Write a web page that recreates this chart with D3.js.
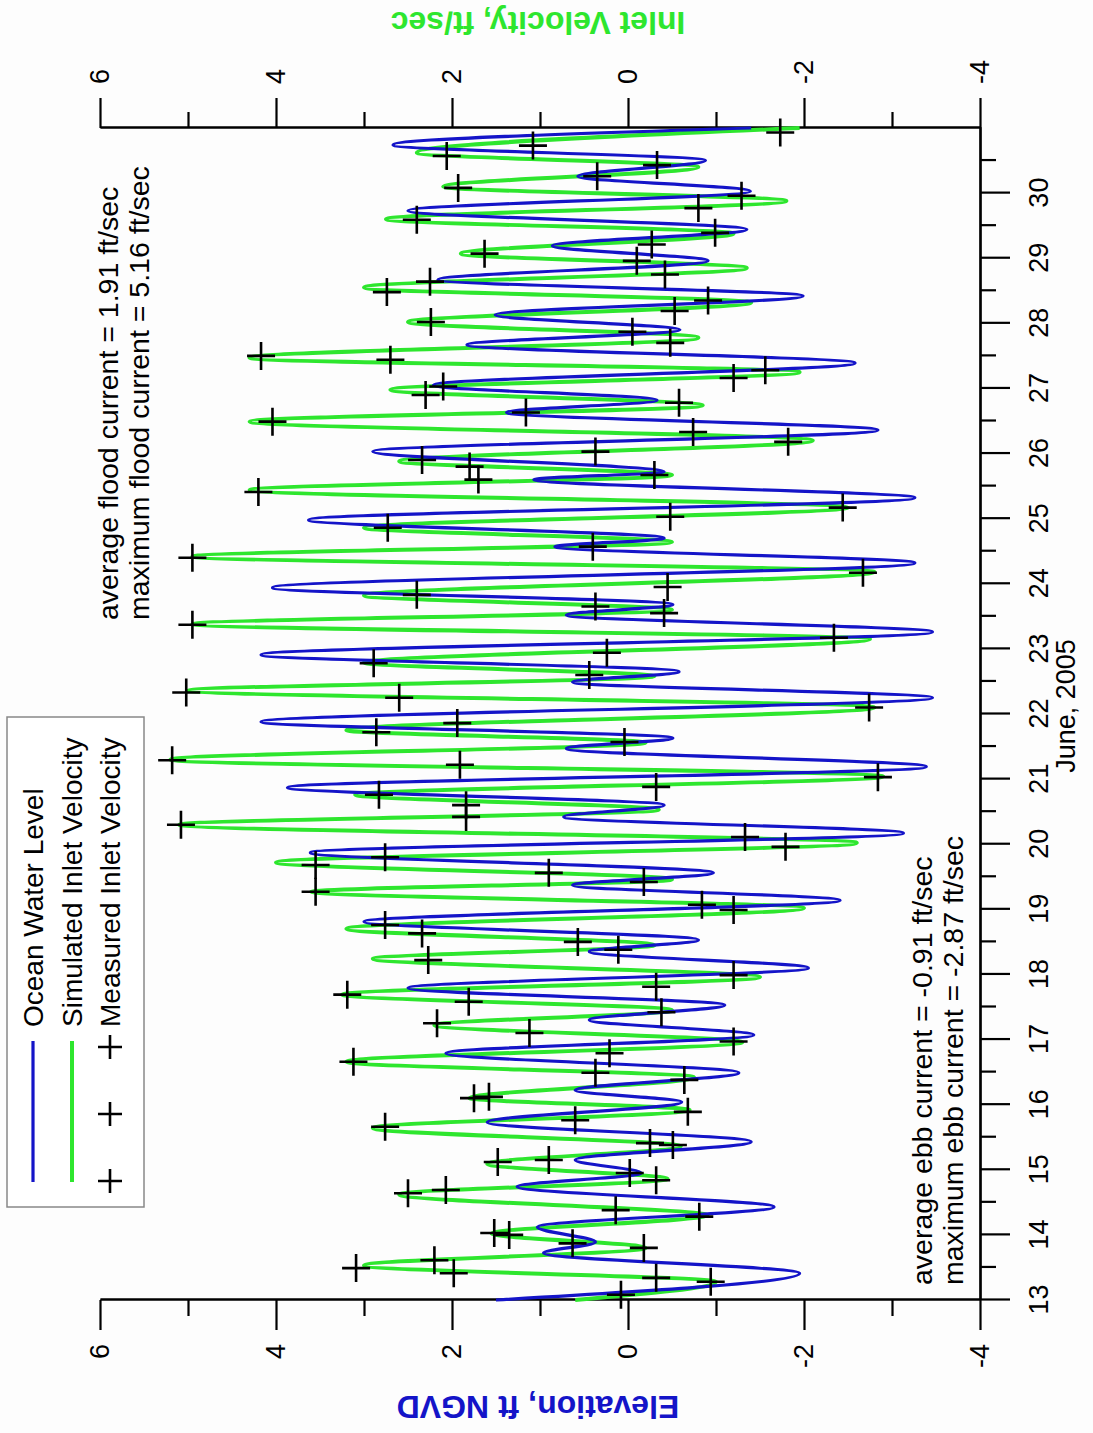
<!DOCTYPE html>
<html><head><meta charset="utf-8">
<script src="https://cdn.jsdelivr.net/npm/d3@7"></script>
<style>body{margin:0;background:#fff}svg{display:block}</style>
</head><body>
<svg id="c" width="1093" height="1433"></svg>
<script>
// ---- data ----
const dayTicks = [13,14,15,16,17,18,19,20,21,22,23,24,25,26,27,28,29,30];
const levelTicks = [-4,-2,0,2,4,6];
const velocityTicks = [-4,-2,0,2,4,6];

// Ocean water level (ft NGVD) turning points
const oceanDays = [13.0,13.41,13.72,13.89,14.12,14.43,14.74,14.95,15.15,15.43,15.73,16.04,16.22,16.49,16.79,17.07,17.30,17.53,17.79,18.10,18.35,18.53,18.81,19.14,19.37,19.56,19.87,20.17,20.42,20.60,20.87,21.19,21.47,21.63,21.88,22.25,22.49,22.65,22.91,23.26,23.52,23.68,23.94,24.32,24.57,24.70,24.98,25.32,25.60,25.72,26.03,26.36,26.63,26.82,27.05,27.39,27.67,27.90,28.13,28.42,28.67,28.96,29.19,29.44,29.73,30.03,30.26,30.50,30.74,31.0];
const oceanLevel = [1.5,-1.95,0.96,0.37,1.03,-1.66,1.26,-0.15,0.6,-1.4,1.6,-0.61,0.6,-1.26,2.07,-1.43,0.44,-1.1,2.5,-2.05,0.44,-0.8,3.0,-2.41,0.63,-0.97,3.61,-3.13,0.73,-0.41,3.87,-3.39,0.7,-0.51,4.17,-3.46,0.63,-0.58,4.17,-3.46,0.7,-0.51,4.04,-3.26,0.83,-0.41,3.63,-3.26,1.07,-0.41,2.9,-2.84,1.38,-0.33,2.21,-2.58,1.83,-0.59,1.51,-1.99,2.16,-0.91,0.86,-1.35,2.5,-1.39,0.57,-0.88,2.67,-1.4];

// Simulated inlet velocity (ft/sec) turning points
const simDays = [13.0,13.28,13.53,13.8,14.02,14.3,14.62,14.86,15.09,15.36,15.64,15.92,16.1,16.42,16.66,16.96,17.22,17.45,17.69,17.96,18.24,18.45,18.7,19.02,19.27,19.46,19.72,20.02,20.3,20.53,20.76,21.04,21.3,21.56,21.75,22.1,22.36,22.58,22.79,23.15,23.38,23.6,23.82,24.18,24.42,24.64,24.86,25.17,25.44,25.67,25.88,26.2,26.49,26.74,26.98,27.25,27.47,27.78,28.02,28.32,28.55,28.85,29.07,29.38,29.6,29.88,30.1,30.4,30.62,31.0];
const simVelocity = [0.6,-1.0,3.0,-0.2,1.55,-0.9,2.6,-0.45,1.6,-0.6,2.9,-0.7,1.8,-0.75,3.2,-1.3,2.2,-0.5,3.25,-1.5,2.9,-0.3,3.2,-2.0,3.6,-0.5,4.0,-2.6,5.1,-0.35,3.1,-2.9,5.2,-0.2,3.2,-2.8,5.0,-0.3,3.0,-2.75,4.95,-0.5,3.0,-2.8,4.95,-0.5,3.0,-2.5,4.3,-0.5,2.6,-2.1,4.3,-0.85,2.7,-1.95,4.3,-0.8,2.5,-1.4,3.0,-1.35,1.9,-1.2,2.75,-1.8,2.1,-0.8,2.4,-1.95];

// Measured inlet velocity (ft/sec)
const measDays = [13.08,13.28,13.34,13.41,13.49,13.61,13.8,13.87,14.0,14.03,14.28,14.38,14.64,14.69,14.84,14.95,15.12,15.15,15.38,15.41,15.66,15.76,15.89,
  16.1,16.12,16.38,16.49,16.66,16.79,16.97,17.1,17.25,17.42,17.58,17.69,17.81,17.99,18.22,18.38,18.5,18.63,18.76,
  18.99,19.07,19.27,19.42,19.56,19.68,19.8,19.96,20.11,20.3,20.42,20.6,20.76,20.88,21.03,21.22,21.29,21.57,21.72,21.86,
  22.1,22.25,22.33,22.6,22.78,22.94,23.17,23.37,23.55,23.65,23.83,23.95,24.17,24.4,24.57,24.86,25.03,
  25.17,25.41,25.6,25.67,25.8,25.9,26.03,26.18,26.33,26.49,26.63,26.78,26.9,27.03,27.16,27.28,27.44,27.5,27.7,27.87,28.02,
  28.19,28.35,28.48,28.64,28.75,28.96,29.07,29.21,29.39,29.59,29.77,29.96,30.08,30.26,30.43,30.57,30.73,30.93];
const measVelocity = [0.08,-0.94,-0.32,1.98,3.09,2.2,-0.18,0.63,1.35,1.52,-0.81,0.14,2.5,2.07,-0.32,-0.02,1.48,0.9,-0.51,-0.25,2.76,0.6,-0.68,
  1.75,1.58,-0.64,0.37,3.12,0.21,-1.2,1.12,2.17,-0.38,1.81,3.19,-0.32,-1.2,2.27,0.11,0.57,2.34,2.76,
  -1.2,-0.84,3.55,-0.18,0.9,3.55,2.76,-1.79,-1.33,5.08,1.84,1.84,2.83,-0.32,-2.84,1.91,5.18,0.04,2.86,1.94,
  -2.74,2.6,5.02,0.44,2.89,0.24,-2.34,4.95,-0.41,0.37,2.4,-0.45,-2.67,4.95,0.4,2.73,-0.48,
  -2.44,4.2,1.7,-0.3,1.8,2.34,0.37,-1.82,-0.74,4.04,1.16,-0.58,2.3,2.1,-1.2,-1.56,2.7,4.17,-0.48,-0.05,2.24,
  -0.53,-0.91,2.74,2.25,-0.42,-0.1,1.63,-0.27,-0.99,2.4,-0.8,-1.29,1.93,0.35,-0.33,2.06,1.08,-1.73];

const legendLabels = ["Ocean Water Level","Simulated Inlet Velocity","Measured Inlet Velocity"];

// ---- drawing ----
const FONT = "'Liberation Sans', Arial, Helvetica, sans-serif";
const BLUE = "#1414c8", GREEN = "#2ee62e";
const svg = d3.select('#c');
svg.append('rect').attr('width',1093).attr('height',1433).attr('fill','#fdfdfd');
// chart is drawn in landscape and turned a quarter turn counter-clockwise
const g = svg.append('g').attr('transform','translate(0,1433) rotate(-90)');

const x = d3.scaleLinear().domain([13,31]).range([133,1305]);
const yL = d3.scaleLinear().domain([-4,6]).range([980,100]);
const yR = d3.scaleLinear().domain([-4,6]).range([980,100]);

function styleAxis(sel, fs){
  sel.selectAll('path.domain').attr('stroke','#000').attr('stroke-width',2.2);
  sel.selectAll('.tick line').attr('stroke','#000').attr('stroke-width',2.2);
  sel.selectAll('.tick text').attr('font-family',FONT).attr('font-size',fs).attr('fill','#000');
}
const range = (a,b,s)=>d3.range(a,b+1e-9,s);
const plain = d => String(d);

// bottom (days) axis
const bx = g.append('g').attr('transform','translate(0,980)')
  .call(d3.axisBottom(x).tickValues(range(13.5,30.5,1)).tickSize(16).tickSizeOuter(0).tickFormat(''));
styleAxis(bx,27);
const bxM = g.append('g').attr('transform','translate(0,980)')
  .call(d3.axisBottom(x).tickValues(dayTicks).tickSize(30).tickSizeOuter(0).tickPadding(19).tickFormat(plain));
styleAxis(bxM,27);

// left (elevation) axis
const lx = g.append('g').attr('transform','translate(133,0)')
  .call(d3.axisLeft(yL).tickValues([-3,-1,1,3,5]).tickSize(16).tickSizeOuter(0).tickFormat(''));
styleAxis(lx,27);
const lxM = g.append('g').attr('transform','translate(133,0)')
  .call(d3.axisLeft(yL).tickValues(levelTicks).tickSize(30).tickSizeOuter(0).tickPadding(14).tickFormat(plain));
styleAxis(lxM,27);

// right (velocity) axis
const rx = g.append('g').attr('transform','translate(1305,0)')
  .call(d3.axisRight(yR).tickValues([-3,-1,1,3,5]).tickSize(16).tickSizeOuter(0).tickFormat(''));
styleAxis(rx,27);
const rxM = g.append('g').attr('transform','translate(1305,0)')
  .call(d3.axisRight(yR).tickValues(velocityTicks).tickSize(30).tickSizeOuter(0).tickPadding(14).tickFormat(plain));
styleAxis(rxM,27);

// axis titles
g.append('text').attr('transform','translate(727,1075)').attr('text-anchor','middle')
  .attr('font-family',FONT).attr('font-size',27).text('June, 2005');
g.append('text').attr('transform','translate(37,538) rotate(-90)').attr('text-anchor','middle')
  .attr('font-family',FONT).attr('font-size',32).attr('font-weight','bold').attr('fill',BLUE)
  .text('Elevation, ft NGVD');
g.append('text').attr('transform','translate(1421,538) rotate(-90)').attr('text-anchor','middle')
  .attr('font-family',FONT).attr('font-size',32).attr('font-weight','bold').attr('fill',GREEN)
  .text('Inlet Velocity, ft/sec');

// series
const simData = simDays.map((d,i)=>({d, v: simVelocity[i]}));
const oceanData = oceanDays.map((d,i)=>({d, v: oceanLevel[i]}));
const measData = measDays.map((d,i)=>({d, v: measVelocity[i]}));

g.append('path').datum(simData)
  .attr('d', d3.line().x(p=>x(p.d)).y(p=>yR(p.v)).curve(d3.curveMonotoneX))
  .attr('fill','none').attr('stroke',GREEN).attr('stroke-width',4);
g.append('path').datum(oceanData)
  .attr('d', d3.line().x(p=>x(p.d)).y(p=>yL(p.v)).curve(d3.curveMonotoneX))
  .attr('fill','none').attr('stroke',BLUE).attr('stroke-width',3.2);

const crossPath = 'M-14,0H14M0,-14V14';
g.append('g').selectAll('path').data(measData).join('path')
  .attr('transform',p=>`translate(${x(p.d)},${yR(p.v)})`)
  .attr('d',crossPath).attr('stroke','#000').attr('stroke-width',2.6).attr('fill','none');

// annotations
const ann = (lines, x0, y0, dy) => {
  lines.forEach((t,i)=>g.append('text').attr('x',x0).attr('y',y0+i*dy)
    .attr('font-family',FONT).attr('font-size',28.5).attr('fill','#000').text(t));
};
ann(['average flood current = 1.91 ft/sec','maximum flood current = 5.16 ft/sec'], 813, 118, 31);
ann(['average ebb current = -0.91 ft/sec','maximum ebb current = -2.87 ft/sec'], 148, 932, 31);

// legend
const lg = g.append('g');
lg.append('rect').attr('x',226).attr('y',7).attr('width',490).attr('height',137)
  .attr('fill','#fff').attr('stroke','#888').attr('stroke-width',1.5);
const rowsY = [33,72,110];
lg.append('line').attr('x1',251).attr('x2',392).attr('y1',rowsY[0]).attr('y2',rowsY[0]).attr('stroke',BLUE).attr('stroke-width',3.2);
lg.append('line').attr('x1',251).attr('x2',392).attr('y1',rowsY[1]).attr('y2',rowsY[1]).attr('stroke',GREEN).attr('stroke-width',4);
[252,319,386].forEach(cx=>lg.append('path').attr('transform',`translate(${cx},${rowsY[2]})`)
  .attr('d','M-12,0H12M0,-12V12').attr('stroke','#000').attr('stroke-width',2.6));
legendLabels.forEach((t,i)=>lg.append('text').attr('x',406).attr('y',rowsY[i]+10)
  .attr('font-family',FONT).attr('font-size',28).attr('fill','#000').text(t));
</script>
</body></html>
